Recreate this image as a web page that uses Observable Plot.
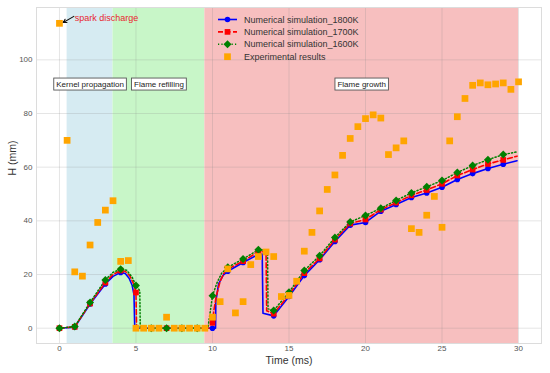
<!DOCTYPE html>
<html><head><meta charset="utf-8">
<script src="https://cdn.jsdelivr.net/npm/d3@7"></script>
<script src="https://cdn.jsdelivr.net/npm/@observablehq/plot@0.6"></script>
<style>body{margin:0;background:#fff} svg{font-family:"Liberation Sans",Arial,sans-serif}</style>
</head><body><div id="chart"></div>
<script>
// ---- phases ----
const phases = ["Kernel propagation", "Flame refilling", "Flame growth"];
const phaseStart = [0.5, 3.5, 9.5];
const phaseEnd = [3.5, 9.5, 30];
const phaseColors = ["#d6ebf2", "#c8f6c8", "#f7bfbf"];
const phaseLabelH = 91;

// ---- axis ticks ----
const xTicks = [0, 5, 10, 15, 20, 25, 30];
const yTicks = [0, 20, 40, 60, 80, 100];

// ---- simulation markers (integer ms) ----
const markerTimes = [0,1,2,3,4,5,6,7,8,9,10,11,12,13,14,15,16,17,18,19,20,21,22,23,24,25,26,27,28,29];
const m1800 = [0,0.4,9,16.5,20.8,0,0,0,0,0,0,21.2,24.5,27.5,4.6,11.8,19.6,25.5,32.3,38.4,39.4,43.6,46.1,48.7,50.4,52.5,55.4,57.6,59.5,61.1];
const m1700 = [0,0.5,9.2,17,21.5,13.3,0,0,0,0,2.0,22,25,28.5,5.4,12.5,20.5,26,33,39,40.5,44.2,46.8,49.5,51.5,53.8,56.9,59.1,61.2,62.7];
const m1600 = [0,0.6,9.6,18,22,15.9,0,0,0,0,12.1,22.7,25.8,29.2,6.6,13.4,21.5,27,33.8,39.6,42,44.7,47.6,50.4,52.7,55,58,60.6,62.8,64.7];

// ---- simulation curves (incl. in-between points) ----
const l1800T = [0,1,2,3,3.5,4,4.3,4.55,4.75,4.87,4.92,10.2,10.22,10.4,10.7,11,12,13,13.25,13.3,14,15,16,17,18,19,20,21,22,23,24,25,26,27,28,29,29.9];
const l1800H = [0,0.4,9,16.5,19.3,20.8,20.4,18.6,16,12.5,0,0,10,16.5,19.8,21.2,24.5,27.5,27.6,5.6,4.6,11.8,19.6,25.5,32.3,38.4,39.4,43.6,46.1,48.7,50.4,52.5,55.4,57.6,59.5,61.1,62.4];
const l1700T = [0,1,2,3,3.5,4,4.3,4.6,4.85,5,5.04,9.95,10,10.1,10.25,10.5,10.75,11,12,13,13.5,13.54,14,15,16,17,18,19,20,21,22,23,24,25,26,27,28,29,29.9];
const l1700H = [0,0.5,9.2,17,20,21.5,21.2,19.5,16.5,13.3,0,0,2,7,12,17.5,20.5,22,25,28.5,28.5,6.5,5.4,12.5,20.5,26,33,39,40.5,44.2,46.8,49.5,51.5,53.8,56.9,59.1,61.2,62.7,64.1];
const l1600T = [0,1,2,3,3.5,4,4.4,4.75,5,5.15,5.25,5.28,9.7,9.85,10,10.3,10.6,11,12,13,13.6,13.63,14,15,16,17,18,19,20,21,22,23,24,25,26,27,28,29,29.9];
const l1600H = [0,0.6,9.6,18,20.8,22,21.6,19,15.9,14.8,14,0,0,6,12.1,17,20.5,22.7,25.8,29.2,29,7.2,6.6,13.4,21.5,27,33.8,39.6,42,44.7,47.6,50.4,52.7,55,58,60.6,62.8,64.7,65.7];

// ---- experimental results ----
const expT = [0,0.5,1,1.5,2,2.5,3,3.5,4,4.5,5,5.5,6,6.5,7,7.5,8,8.5,9,9.5,10,10.5,11,11.5,12,12.5,13,13.5,14,14.5,15,15.5,16,16.5,17,17.5,18,18.5,19,19.5,20,20.5,21,21.5,22,22.5,23,23.5,24,24.5,25,25.5,26,26.5,27,27.5,28,28.5,29,29.5,30];
const expH = [113.6,70,21,19.4,31,39.4,44,47.5,24.9,25.2,0,0,0,0,4.1,0,0,0,0,0,4.1,9.9,22.1,5.7,9.9,23.7,26.7,28.4,26.7,11.8,12.2,17.5,28.7,35.7,43.7,51.7,57.1,64.4,70.7,75.1,78.1,79.5,78.3,64.7,67.2,69.8,37.1,35.7,42.1,49.1,37.6,69.8,78.8,85.6,90.5,91.4,90.7,91,91.4,89,91.8];

// ---- legend ----
const seriesNames = ["Numerical simulation_1800K", "Numerical simulation_1700K", "Numerical simulation_1600K", "Experimental results"];
const seriesColors = ["#0000ff", "#ff0000", "#008000", "#ffa500"];

// ---- spark annotation ----
const sparkText = "spark discharge";
const sparkTextPos = [1.0, 115.4];
const sparkArrowFrom = [0.94, 116.2];
const sparkArrowTo = [0.25, 113.9];

const zip = (a, b) => a.map((v, i) => ({t: v, h: b[i]}));
const phaseData = phases.map((p, i) => ({name: p, start: phaseStart[i], end: phaseEnd[i], color: phaseColors[i]}));

const plot = Plot.plot({
  width: 550, height: 373,
  marginLeft: 36, marginRight: 9, marginTop: 7, marginBottom: 30,
  x: {domain: [-1.5, 31.5]},
  y: {domain: [-5.7, 119.5]},
  color: {type: "identity"},
  style: {fontFamily: "Liberation Sans, Arial, sans-serif", fontSize: "8px", color: "#555", background: "white"},
  marks: [
    Plot.rect(phaseData, {x1: "start", x2: "end", fill: "color"}),
    Plot.gridX(xTicks, {stroke: "#888", strokeOpacity: 0.22}),
    Plot.gridY(yTicks, {stroke: "#888", strokeOpacity: 0.22}),
    Plot.frame({stroke: "#dcdcdc"}),
    Plot.axisX(xTicks, {tickSize: 0, tickPadding: 2, label: null, fill: "#555"}),
    Plot.axisY(yTicks, {tickSize: 0, tickPadding: 4, label: null, fill: "#555"}),
    Plot.text(["Time (ms)"], {frameAnchor: "bottom", dy: 20, fontSize: 10.5, fill: "#333"}),
    Plot.text(["H (mm)"], {frameAnchor: "left", rotate: -90, dx: -24, fontSize: 10.5, fill: "#333"}),
    // curves
    Plot.line(zip(l1800T, l1800H), {x: "t", y: "h", stroke: seriesColors[0], strokeWidth: 1.6}),
    Plot.line(zip(l1700T, l1700H), {x: "t", y: "h", stroke: seriesColors[1], strokeWidth: 1.6, strokeDasharray: "5,2.5"}),
    Plot.line(zip(l1600T, l1600H), {x: "t", y: "h", stroke: seriesColors[2], strokeWidth: 1.5, strokeDasharray: "1.2,2.2"}),
    Plot.dot(zip(markerTimes, m1800), {x: "t", y: "h", r: 2.8, fill: seriesColors[0], stroke: "none"}),
    Plot.dot(zip(markerTimes, m1700), {x: "t", y: "h", r: 3.2, symbol: "square", fill: seriesColors[1], stroke: "none"}),
    Plot.dot(zip(markerTimes, m1600), {x: "t", y: "h", r: 3.6, symbol: "diamond2", fill: seriesColors[2], stroke: "none"}),
    Plot.dot(zip(expT, expH), {x: "t", y: "h", r: 3.8, symbol: "square", fill: seriesColors[3], stroke: "none"}),
    // phase labels
    Plot.text(phaseData, {x: d => (d.start + d.end) / 2, y: () => phaseLabelH, text: "name", fontSize: 8, fill: "#222"}),
    // spark annotation
    Plot.arrow([0], {x1: () => sparkArrowFrom[0], y1: () => sparkArrowFrom[1], x2: () => sparkArrowTo[0], y2: () => sparkArrowTo[1], stroke: "#111", strokeWidth: 1.1, headLength: 5}),
    Plot.text([sparkText], {x: () => sparkTextPos[0], y: () => sparkTextPos[1], textAnchor: "start", fontSize: 9, fill: "#e8262f"})
  ]
});
document.getElementById("chart").appendChild(plot);

// boxes behind phase labels
const svg = d3.select(plot);
svg.selectAll("text").each(function() {
  if (phases.includes(this.textContent)) {
    const b = this.getBBox();
    d3.select(this.parentNode).insert("rect", () => this)
      .attr("transform", this.getAttribute("transform"))
      .attr("x", b.x - 2.5).attr("y", b.y - 1.5).attr("width", b.width + 5).attr("height", b.height + 3)
      .attr("fill", "white").attr("stroke", "#555").attr("stroke-width", 0.9);
  }
});

// legend
const lg = svg.append("g").attr("transform", "translate(218,19.5)").attr("text-anchor", "start");
seriesNames.forEach((name, i) => {
  const g = lg.append("g").attr("transform", `translate(0,${i * 12.4})`);
  if (i < 3) {
    g.append("line").attr("x1", 0).attr("x2", 19).attr("y1", 0).attr("y2", 0)
      .attr("stroke", seriesColors[i]).attr("stroke-width", 1.6)
      .attr("stroke-dasharray", i === 1 ? "5,2.5" : i === 2 ? "1.2,2.2" : null);
  }
  const sym = [d3.symbolCircle, d3.symbolSquare, d3.symbolDiamond2, d3.symbolSquare][i];
  const size = [2.8, 3.2, 3.6, 3.8][i];
  g.append("path").attr("d", d3.symbol(sym, Math.PI * size * size)()).attr("transform", "translate(9.5,0)").attr("fill", seriesColors[i]);
  g.append("text").attr("x", 26).attr("y", 0).attr("dy", "0.35em").attr("font-size", 9).attr("fill", "#333").attr("text-anchor", "start").text(name);
});
</script></body></html>
